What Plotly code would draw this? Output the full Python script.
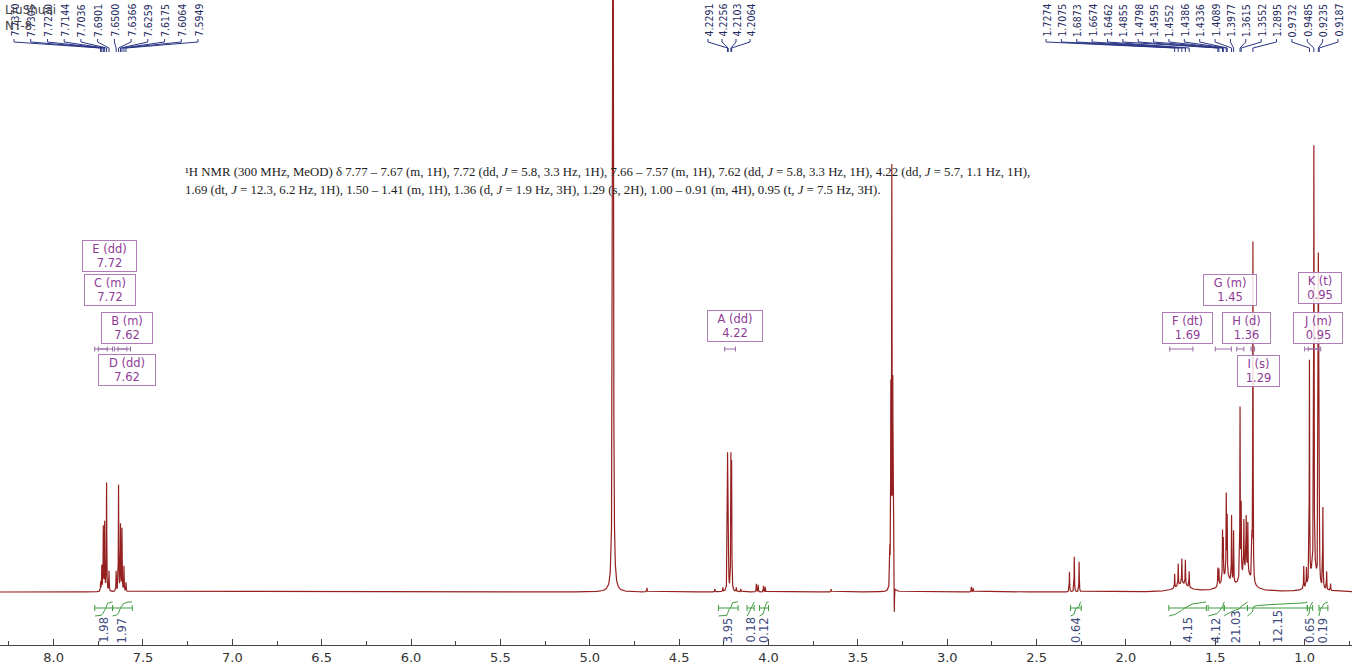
import numpy as np
import plotly.graph_objects as go

# ---------------- data ----------------
# aromatic AA'BB' lines (ppm) and heights
arom_ppm = [7.7370, 7.7305, 7.7220, 7.7144, 7.7036, 7.6901,
            7.6500, 7.6366, 7.6259, 7.6175, 7.6064, 7.5949]
arom_h = [9, 25, 64, 68, 108, 20, 20, 106, 66, 62, 25, 9]

hod_ppm = [4.870]
hod_h = [1200]

a_ppm = [4.2291, 4.2256, 4.2103, 4.2064]
a_h = [126, 122, 128, 120]

minor_ppm = [4.680, 4.300, 4.255, 4.180, 4.155, 4.068, 4.058, 4.028, 4.018, 3.650, 2.865, 2.855]
minor_h = [4, 3, 4, 4, 3, 8, 7, 6, 5, 3, 5, 4]

solv_ppm = [3.3210, 3.3155, 3.3100, 3.3045, 3.2990, 3.2960]
solv_h = [35, 190, 410, 195, 35, -32]

small_ppm = [2.316, 2.289, 2.262]
small_h = [20, 35, 30]

f_ppm = [1.7274, 1.7075, 1.6873, 1.6674, 1.6462]
f_h = [14, 22, 25, 25, 16]

g_ppm = [1.4855, 1.4798, 1.4595, 1.4552, 1.4386, 1.4336, 1.4089, 1.3977]
g_h = [18, 16, 48, 38, 80, 58, 66, 52]

h_ppm = [1.3615, 1.3552, 1.3400, 1.3270, 1.3180]
h_h = [170, 70, 50, 52, 48]

i_ppm = [1.2950, 1.2895]
i_h = [40, 340]

jk_ppm = [1.0050, 0.9900, 0.9732, 0.9485, 0.9235, 0.9187, 0.8980, 0.8770, 0.8550]
jk_h = [22, 18, 220, 420, 320, 150, 80, 18, 7]

broad_ppm = [1.685, 1.440, 1.330, 0.950]
broad_h = [8, 14, 22, 25]
broad_w = [0.040, 0.030, 0.030, 0.020]

# picked-peak labels at the top
top_left = ["7.7370", "7.7305", "7.7220", "7.7144", "7.7036", "7.6901",
            "7.6500", "7.6366", "7.6259", "7.6175", "7.6064", "7.5949"]
top_mid = ["4.2291", "4.2256", "4.2103", "4.2064"]
top_right = ["1.7274", "1.7075", "1.6873", "1.6674", "1.6462", "1.4855", "1.4798",
             "1.4595", "1.4552", "1.4386", "1.4336", "1.4089", "1.3977", "1.3615",
             "1.3552", "1.2895", "0.9732", "0.9485", "0.9235", "0.9187"]

# integrals
int_hi = [7.77, 7.67, 4.28, 4.12, 4.05, 2.31, 1.76, 1.54, 1.45, 1.32, 0.985, 0.92]
int_lo = [7.67, 7.56, 4.17, 4.08, 4.00, 2.25, 1.55, 1.45, 1.32, 0.985, 0.955, 0.87]
int_val = ["1.98", "1.97", "3.95", "0.18", "0.12", "0.64", "4.15", "4.12",
           "21.03", "12.15", "0.65", "0.19"]

# multiplets
mult_name = ["E", "C", "B", "D", "A", "G", "F", "H", "I", "K", "J"]
mult_type = ["dd", "m", "m", "dd", "dd", "m", "dt", "d", "s", "t", "m"]
mult_shift = ["7.72", "7.72", "7.62", "7.62", "4.22", "1.45", "1.69", "1.36", "1.29", "0.95", "0.95"]
mult_hi = [7.75, 7.77, 7.66, 7.64, 4.245, 1.50, 1.755, 1.38, 1.30, 0.98, 1.00]
mult_lo = [7.70, 7.67, 7.57, 7.59, 4.185, 1.41, 1.625, 1.34, 1.28, 0.92, 0.91]

desc1 = ("¹H NMR (300 MHz, MeOD) δ 7.77 – 7.67 (m, 1H), 7.72 (dd, <i>J</i> = 5.8, 3.3 Hz, 1H), "
         "7.66 – 7.57 (m, 1H), 7.62 (dd, <i>J</i> = 5.8, 3.3 Hz, 1H), 4.22 (dd, <i>J</i> = 5.7, 1.1 Hz, 1H),")
desc2 = ("1.69 (dt, <i>J</i> = 12.3, 6.2 Hz, 1H), 1.50 – 1.41 (m, 1H), 1.36 (d, <i>J</i> = 1.9 Hz, 3H), "
         "1.29 (s, 2H), 1.00 – 0.91 (m, 4H), 0.95 (t, <i>J</i> = 7.5 Hz, 3H).")

# ---------------- layout helpers ----------------
W, H = 1352, 670
MB = 25
PX_PER_PPM = 178.72
X_LEFT = 8.30
X_RIGHT = X_LEFT - W / PX_PER_PPM
Y_TOP = 592.0
Y_BOT = Y_TOP - (H - MB)


def px2ppm(px):
    return X_LEFT - px / PX_PER_PPM


def py2y(py):
    return Y_TOP - py


# ---------------- spectrum from the peak list ----------------
sharp_ppm = arom_ppm + a_ppm + minor_ppm + solv_ppm + small_ppm + f_ppm + g_ppm + h_ppm + i_ppm + jk_ppm
sharp_h = arom_h + a_h + minor_h + solv_h + small_h + f_h + g_h + h_h + i_h + jk_h
all_ppm = np.array(sharp_ppm + hod_ppm + broad_ppm)
all_h = np.array(sharp_h + hod_h + broad_h, dtype=float)
all_w = np.array([0.0012] * len(sharp_ppm) + [0.002] + broad_w)

grid = [np.arange(X_RIGHT - 0.01, X_LEFT + 0.01, 0.002)]
for p in all_ppm:
    grid.append(np.arange(p - 0.02, p + 0.02, 0.0002))
    grid.append(np.array([p]))
xg = np.unique(np.round(np.concatenate(grid), 5))
yg = np.zeros_like(xg)
for p, h, w in zip(all_ppm, all_h, all_w):
    yg += h / (1.0 + ((xg - p) / w) ** 2)

fig = go.Figure()
RED = "#952020"
fig.add_trace(go.Scatter(x=np.round(xg, 5), y=np.round(yg, 2), mode="lines",
                         line=dict(color=RED, width=1.2), hoverinfo="skip"))

# ---------------- integrals ----------------
GREEN = "#3f9b3f"
INTC = "#3d4a7d"
br_y = py2y(608)
bx, by = [], []
cx, cy = [], []
for lo, hi, val in zip(int_lo, int_hi, int_val):
    bx += [hi, hi, None, hi, lo, None, lo, lo, None]
    by += [br_y + 3, br_y - 3, None, br_y, br_y, None, br_y + 3, br_y - 3, None]
    m = (xg >= lo) & (xg <= hi)
    xs = xg[m][::-1]
    ys = yg[m][::-1]
    cum = np.concatenate([[0], np.cumsum(0.5 * (ys[1:] + ys[:-1]) * np.abs(np.diff(xs)))])
    if cum[-1] > 0:
        cum = cum / cum[-1]
    cx += list(xs) + [None]
    cy += list(py2y(616) + 14 * cum) + [None]
    fig.add_annotation(x=(lo + hi) / 2, y=py2y(645), text=val, textangle=-90,
                       showarrow=False, xanchor="center", yanchor="bottom",
                       font=dict(family="DejaVu Sans", size=11.5, color=INTC))
fig.add_trace(go.Scatter(x=bx, y=by, mode="lines", line=dict(color=GREEN, width=1), hoverinfo="skip"))
fig.add_trace(go.Scatter(x=cx, y=cy, mode="lines", line=dict(color=GREEN, width=1), hoverinfo="skip"))

# ---------------- top peak labels with leader lines ----------------
NAVY = "#2a3585"
lx, ly = [], []
groups = [(top_left, 14, 198), (top_mid, 708, 750), (top_right, 1046, 1338)]
for labels, p0, p1 in groups:
    pxs = np.linspace(p0, p1, len(labels))
    for lab, px in zip(labels, pxs):
        xl = px2ppm(px)
        xp = float(lab)
        lx += [xl, xl, xp, xp, None]
        ly += [py2y(39), py2y(42), py2y(48), py2y(52), None]
        fig.add_annotation(x=xl, y=py2y(39), text=lab, textangle=-90, showarrow=False,
                           xanchor="center", yanchor="bottom",
                           font=dict(family="Liberation Sans Narrow, DejaVu Sans Condensed, sans-serif",
                                     size=10.5, color="#1e2a5e"))
fig.add_trace(go.Scatter(x=lx, y=ly, mode="lines", line=dict(color=NAVY, width=1), hoverinfo="skip"))

# ---------------- multiplet boxes and range bars ----------------
PURP = "#8e3b96"
PBORD = "#b07cb8"
box_pos = {"E": (109.5, 256, 55), "C": (110, 290, 52), "B": (127, 328, 52), "D": (127, 370, 58),
           "A": (735, 326, 56), "G": (1230, 290, 54), "F": (1187.5, 327.5, 51),
           "H": (1246.5, 327.5, 49), "I": (1258.5, 370.5, 43), "K": (1320, 288, 44),
           "J": (1318, 327.5, 50)}
mx, my = [], []
bar_y = py2y(349)
for n, t, s, hi, lo in zip(mult_name, mult_type, mult_shift, mult_hi, mult_lo):
    pxc, pyc, wd = box_pos[n]
    fig.add_annotation(x=px2ppm(pxc), y=py2y(pyc), text=f"{n} ({t})<br>{s}", showarrow=False,
                       xanchor="center", yanchor="middle", width=wd - 4, height=28,
                       bordercolor=PBORD, borderwidth=1, borderpad=1, bgcolor="rgba(255,255,255,0.85)",
                       font=dict(family="DejaVu Sans", size=11.5, color=PURP))
    mx += [hi, hi, None, hi, lo, None, lo, lo, None]
    my += [bar_y + 2.5, bar_y - 2.5, None, bar_y, bar_y, None, bar_y + 2.5, bar_y - 2.5, None]
fig.add_trace(go.Scatter(x=mx, y=my, mode="lines", line=dict(color="#9a6aa6", width=1), hoverinfo="skip"))

# ---------------- texts ----------------
fig.add_annotation(x=px2ppm(183), y=py2y(172), text=desc1, showarrow=False, xanchor="left",
                   yanchor="middle", font=dict(family="Liberation Serif", size=12.8, color="#222"))
fig.add_annotation(x=px2ppm(183), y=py2y(190), text=desc2, showarrow=False, xanchor="left",
                   yanchor="middle", font=dict(family="Liberation Serif", size=12.8, color="#222"))
fig.add_annotation(x=px2ppm(3), y=py2y(10), text="LiuShuai", showarrow=False, xanchor="left",
                   yanchor="middle", font=dict(family="DejaVu Sans", size=12, color="#444"))
fig.add_annotation(x=px2ppm(3), y=py2y(26), text="NT-8", showarrow=False, xanchor="left",
                   yanchor="middle", font=dict(family="DejaVu Sans", size=12, color="#444"))

fig.update_layout(
    width=W, height=H, showlegend=False, plot_bgcolor="white", paper_bgcolor="white",
    margin=dict(l=0, r=0, t=0, b=MB),
    xaxis=dict(range=[X_LEFT, X_RIGHT], tickmode="linear", tick0=0, dtick=0.5, tickformat=".1f",
               ticks="inside", ticklen=6, tickcolor="#444", showline=True, linecolor="#444",
               linewidth=1, showgrid=False, zeroline=False,
               tickfont=dict(family="DejaVu Sans", size=13, color="#333"),
               minor=dict(dtick=0.25, tick0=0, ticks="inside", ticklen=4, tickcolor="#444", showgrid=False)),
    yaxis=dict(range=[Y_BOT, Y_TOP], visible=False, showgrid=False, zeroline=False),
)

fig.write_html("out.html", config={"displayModeBar": False},
               post_script="document.body.style.margin='0';document.body.style.overflow='hidden';")
